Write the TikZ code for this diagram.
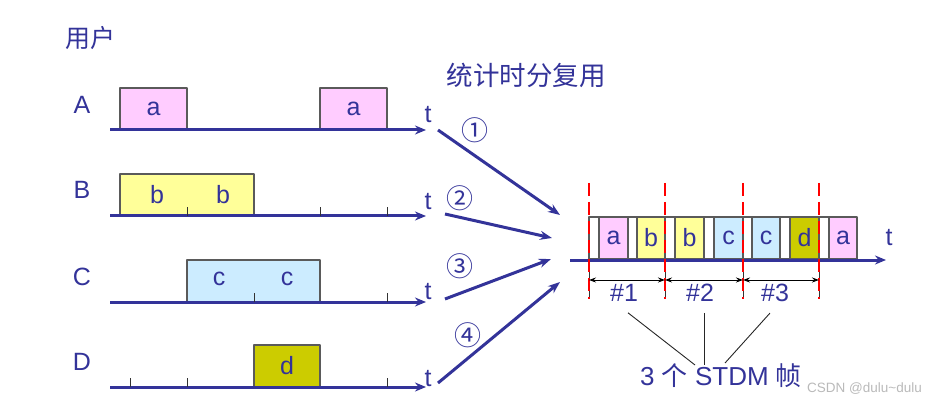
\documentclass[tikz,border=0pt]{standalone}
\usepackage{fontspec}
\setmainfont{Liberation Sans}
\newfontfamily\cjk{Noto Sans CJK SC}
\usetikzlibrary{arrows.meta}
\definecolor{navy}{HTML}{333399}
\definecolor{pinkbox}{HTML}{FFCCFF}
\definecolor{yelbox}{HTML}{FFFF99}
\definecolor{bluebox}{HTML}{CCECFF}
\definecolor{dbox}{HTML}{CCCC00}
\definecolor{edge}{HTML}{5A5A5A}
\tikzset{fig/.style={x=1pt,y=-1pt,line join=round,>=Stealth},
  txt/.style={text=navy,font=\fontsize{25}{28}\selectfont,inner sep=0pt},
  box/.style={draw=edge,line width=1.3pt,minimum height=42pt,inner sep=0pt,text=navy,font=\fontsize{25}{28}\selectfont},
  cell/.style={box,outer sep=0pt},
  axis/.style={navy,line width=3pt,-{Stealth[length=11pt,width=9pt]}},
  tick/.style={black!80,line width=1pt},
  feed/.style={navy,line width=3pt,-{Stealth[length=12pt,width=9pt]}},
  frm/.style={red,line width=2.6pt,dash pattern=on 13pt off 6pt},
  dim/.style={black,line width=0.9pt,{Stealth[length=7pt,width=5pt]}-{Stealth[length=7pt,width=5pt]}},
  lead/.style={black!85,line width=0.9pt}}
\newcommand{\userAxis}[2]{\coordinate (#1s) at (110,#2);\coordinate (#1e) at (426,#2);\draw[axis](#1s)--(#1e);}

\begin{document}
\begin{tikzpicture}[fig]
  \useasboundingbox (0,0) rectangle (933,403);
  \node[txt] (users) at (90,38) {\cjk 用户};
  \node[txt,font=\fontsize{26.5}{28}\selectfont] (title) at (526,75) {\cjk 统计时分复用};
  % four users
  \foreach \u/\y in {A/105,B/190,C/277,D/362}{\node[txt] (lab\u) at (82,\y) {\u};}
  \node[box,fill=pinkbox,minimum width=67pt] (A1) at (153.5,109) {a};
  \node[box,fill=pinkbox,minimum width=67pt] (A2) at (353.5,109) {a};
  \node[box,fill=yelbox,minimum width=134pt] (B1) at (187,195) {};
  \node[txt] (b1) at (157,195) {b};\node[txt] (b2) at (223,195) {b};
  \node[box,fill=bluebox,minimum width=133pt] (C1) at (253.5,281) {};
  \node[txt] (c1) at (219,279) {c};\node[txt] (c2) at (287,279) {c};
  \node[box,fill=dbox,minimum width=66pt] (D1) at (287,366) {d};
  \userAxis{A}{130}\userAxis{B}{216}\userAxis{C}{302}\userAxis{D}{387}
  \foreach \x in {187,320,387}\draw[tick](\x,216)--(\x,207);
  \foreach \x in {254,387}\draw[tick](\x,302)--(\x,293);
  \foreach \x in {130,187,387}\draw[tick](\x,387)--(\x,378);
  \foreach \u/\y in {A/123,B/210,C/299,D/386}{\node[txt,anchor=base] (t\u) at (428,\y) {t};}
  % into the multiplexer
  \coordinate (s1) at (438,130);\coordinate (e1) at (560,215);
  \coordinate (s2) at (445,214);\coordinate (e2) at (552,238);
  \coordinate (s3) at (445,299);\coordinate (e3) at (551,259);
  \coordinate (s4) at (438,383);\coordinate (e4) at (560,282);
  \foreach \i in {1,...,4}\draw[feed](s\i)--(e\i);
  \foreach \n/\x/\y in {1/475/130,2/460/198,3/460/266,4/468/335}{\node[text=navy,font=\cjk\fontsize{27}{28}\selectfont,inner sep=0pt] (k\n) at (\x,\y) {\ifcase\n\or①\or②\or③\or④\fi};}
  % STDM frames
  \foreach \l/\r/\c/\s [count=\i] in {589/599/white/{},599/628/pinkbox/a,628/637/white/{},637/665/yelbox/b,665/675/white/{},675/704/yelbox/b,704/714/white/{},714/743/bluebox/c,743/752/white/{},752/780/bluebox/c,780/790/white/{},790/819/dbox/d,819/829/white/{},829/857/pinkbox/a}
    {\node[cell,fill=\c,minimum width=\r-\l] (m\i) at ({(\l+\r)/2},238) {\s};}
  \coordinate (ms) at (570,260);\coordinate (me) at (886,260);\draw[axis](ms)--(me);
  \node[txt,anchor=base] (tm) at (889,245) {t};
  \foreach \x [count=\j] in {589,665,743,819}{\coordinate (f\j) at (\x,280);\draw[tick,line width=0.8pt](\x,259)--(\x,297);\draw[frm](\x,183)--(\x,299);}
  \foreach \a/\b/\x in {1/2/624,2/3/700,3/4/775}{\draw[dim](f\a)--(f\b);\node[txt] (n\a) at (\x,293) {\#\a};}
  \node[txt,font=\fontsize{26}{28}\selectfont] (stdm) at (721,376) {3 {\cjk 个} STDM {\cjk 帧}};
  \coordinate (j1) at (695,365);\coordinate (j2) at (704,365);\coordinate (j3) at (725,363);
  \draw[lead]([shift={(4pt,-11pt)}]n1.south)--(j1);\draw[lead]([shift={(4pt,-11pt)}]n2.south)--(j2);\draw[lead]([shift={(-5pt,-11pt)}]n3.south)--(j3);
  \node[text=gray!55,font=\fontsize{13.5}{16}\selectfont,inner sep=0pt,anchor=west] (mark) at (807,389) {CSDN @dulu\textasciitilde dulu};
\end{tikzpicture}
\end{document}
